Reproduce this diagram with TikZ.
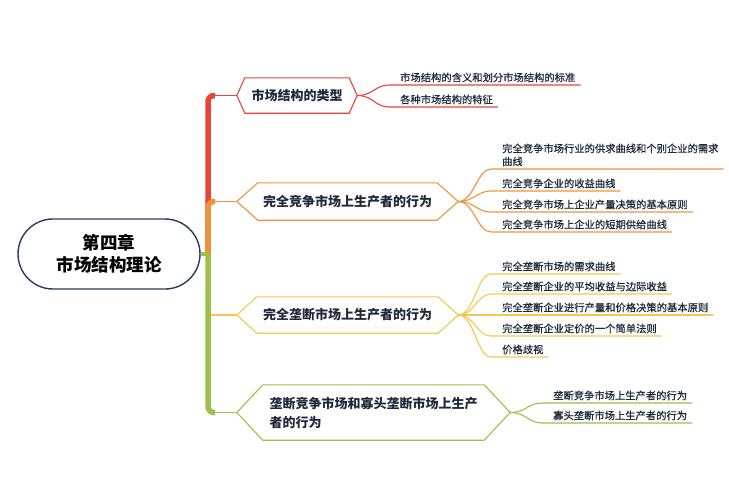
\documentclass[tikz,border=0pt]{standalone}
\usepackage{fontspec}
\setmainfont{Noto Sans CJK SC}
\newfontfamily\leaffont[FakeBold=0.7]{Noto Sans CJK SC}
\definecolor{cred}{HTML}{E8443A}
\definecolor{corange}{HTML}{F0923A}
\definecolor{cyellow}{HTML}{F2C94C}
\definecolor{cgreen}{HTML}{9CC04C}
\definecolor{cnavy}{HTML}{2B3A5A}
\definecolor{ctext}{HTML}{1E2A3A}
\newcommand\hexframe[3]{\draw[#3, line width=1.1pt, line join=miter] (#1.west) -- ([xshift=#2]#1.north west) -- ([xshift=-#2]#1.north east) -- (#1.east) -- ([xshift=-#2]#1.south east) -- ([xshift=#2]#1.south west) -- cycle;}
\begin{document}
\begin{tikzpicture}[x=1pt,y=-1pt,
  hexn/.style={inner sep=0pt, text=ctext, font=\fontsize{13}{19}\selectfont\bfseries},
  leaf/.style={anchor=south west, inner xsep=5pt, inner ysep=2pt, text height=8.8pt, text depth=1.4pt, text=ctext, align=left, font=\leaffont\fontsize{10.3}{13}\selectfont},
  trunk/.style={line width=5.5pt, rounded corners=6pt, line cap=butt},
  thinline/.style={line width=1.1pt},
  twig/.style={line width=1.1pt}]
\useasboundingbox (0,0) rectangle (729,490);

% root
\node[draw=cnavy, line width=1.4pt, rounded corners=35pt, minimum width=182pt, minimum height=70pt, align=center, text=black, font=\fontsize{17.5}{22}\selectfont\bfseries] (root) at (109,254) {第四章\\市场结构理论};
\coordinate (hub) at (208,254);

% main topics
\node[hexn, minimum width=120pt, minimum height=35pt] (h1) at (297,95.5) {市场结构的类型};
\node[hexn, minimum width=221pt, minimum height=37pt] (h2) at (347.5,201.5) {完全竞争市场上生产者的行为};
\node[hexn, minimum width=221pt, minimum height=36pt] (h3) at (347.5,315) {完全垄断市场上生产者的行为};
\node[hexn, minimum width=273pt, minimum height=55pt, align=left] (h4) at (373.5,412.5) {垄断竞争市场和寡头垄断市场上生产\\者的行为};
\hexframe{h1}{8}{cred}
\hexframe{h2}{21}{corange}
\hexframe{h3}{20}{cyellow}
\hexframe{h4}{26}{cgreen}

% trunk
\coordinate (c1) at (215,95.5);
\coordinate (c2) at (215,201.5);
\coordinate (c3) at (211,315);
\coordinate (c4) at (215,412.5);
\draw[trunk, cred] (hub) |- (c1);
\draw[thinline, cred] ([xshift=-1]c1) -- (h1.west);
\draw[trunk, corange] (hub) |- (c2);
\draw[thinline, corange] ([xshift=-1]c2) -- (h2.west);
\draw[thinline, cyellow] (c3) -- (h3.west);
\draw[trunk, cgreen] (hub) |- (c4);
\draw[thinline, cgreen] ([xshift=-1]c4) -- (h4.west);
\draw[line width=4.5pt, cgreen] (root.east) -- ([xshift=1]hub);

% leaves branch 1
\node[leaf] (l11) at (395,85) {市场结构的含义和划分市场结构的标准};
\node[leaf] (l12) at (395,107) {各种市场结构的特征};
% leaves branch 2
\node[leaf] (l21) at (497,169) {完全竞争市场行业的供求曲线和个别企业的需求\\曲线};
\node[leaf] (l22) at (497,191) {完全竞争企业的收益曲线};
\node[leaf] (l23) at (497,212) {完全竞争市场上企业产量决策的基本原则};
\node[leaf] (l24) at (497,232) {完全竞争市场上企业的短期供给曲线};
% leaves branch 3
\node[leaf] (l31) at (497,274) {完全垄断市场的需求曲线};
\node[leaf] (l32) at (497,294) {完全垄断企业的平均收益与边际收益};
\node[leaf] (l33) at (497,315) {完全垄断企业进行产量和价格决策的基本原则};
\node[leaf] (l34) at (497,336) {完全垄断企业定价的一个简单法则};
\node[leaf] (l35) at (497,357) {价格歧视};
% leaves branch 4
\node[leaf] (l41) at (548,403) {垄断竞争市场上生产者的行为};
\node[leaf] (l42) at (548,423) {寡头垄断市场上生产者的行为};

% twigs
\foreach \l in {l11,l12}
  \draw[twig, cred] (h1.east) .. controls +(16,0) and +(-14,0) .. ([xshift=-6]\l.south west) -- (\l.south east);
\foreach \l in {l21,l22,l23,l24}
  \draw[twig, corange] (h2.east) .. controls +(16,0) and +(-14,0) .. ([xshift=-6]\l.south west) -- (\l.south east);
\foreach \l in {l31,l32,l33,l34,l35}
  \draw[twig, cyellow] (h3.east) .. controls +(16,0) and +(-14,0) .. ([xshift=-6]\l.south west) -- (\l.south east);
\foreach \l in {l41,l42}
  \draw[twig, cgreen] (h4.east) .. controls +(16,0) and +(-14,0) .. ([xshift=-6]\l.south west) -- (\l.south east);
\end{tikzpicture}
\end{document}
